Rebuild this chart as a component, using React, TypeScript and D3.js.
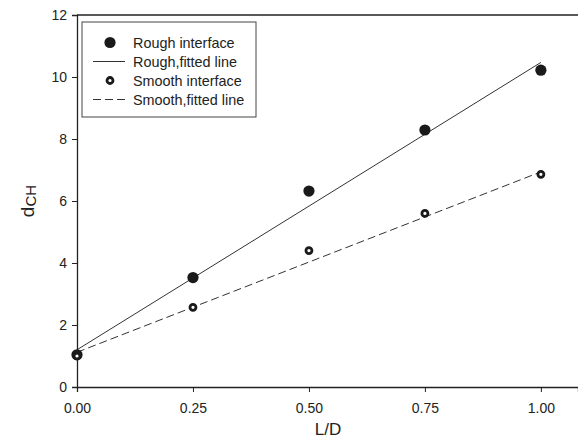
import React, { useRef, useEffect } from 'react';
import * as d3 from 'd3';

const xTicks = [0, 0.25, 0.5, 0.75, 1.0];
const yTicks = [0, 2, 4, 6, 8, 10, 12];

const ratio = [0, 0.25, 0.5, 0.75, 1.0];
const roughValues = [1.04, 3.53, 6.32, 8.29, 10.22];
const smoothValues = [1.0, 2.57, 4.4, 5.6, 6.86];

// fitted lines, end points
const roughFit = [1.2, 10.47];
const smoothFit = [1.12, 6.94];
const fitX = [0, 1.0];

const legendItems = ['Rough interface', 'Rough,fitted line', 'Smooth interface', 'Smooth,fitted line'];

const FONT = '"Liberation Sans", Arial, sans-serif';

const App = () => {
  const ref = useRef<SVGSVGElement>(null);

  useEffect(() => {
    const width = 578;
    const height = 438;
    const svg = d3.select(ref.current).attr('width', width).attr('height', height);
    svg.selectAll('*').remove();

    const x = d3.scaleLinear().domain([0, 1.08]).range([77, 578]);
    const y = d3.scaleLinear().domain([0, 12]).range([387, 15]);

    // top frame line
    svg.append('line')
      .attr('x1', x(0)).attr('x2', 578)
      .attr('y1', y(12)).attr('y2', y(12))
      .attr('stroke', '#222').attr('stroke-width', 1.3);

    const xAxis = svg.append('g')
      .attr('transform', `translate(0,${y(0)})`)
      .call(d3.axisBottom(x).tickValues(xTicks).tickFormat(d3.format('.2f')).tickSizeOuter(0).tickSize(5).tickPadding(11));

    const yAxis = svg.append('g')
      .attr('transform', `translate(${x(0)},0)`)
      .call(d3.axisLeft(y).tickValues(yTicks).tickFormat(d3.format('d')).tickSizeOuter(0).tickSize(5).tickPadding(5));

    [xAxis, yAxis].forEach(g => {
      g.select('.domain').attr('stroke', '#222').attr('stroke-width', 1.3);
      g.selectAll('.tick line').attr('stroke', '#222').attr('stroke-width', 1);
      g.selectAll('.tick text').attr('font-family', FONT).attr('font-size', 14).attr('fill', '#222');
    });

    // fitted lines
    const line = d3.line<[number, number]>().x(d => x(d[0])).y(d => y(d[1]));
    svg.append('path')
      .attr('d', line(fitX.map((v, i) => [v, roughFit[i]] as [number, number])))
      .attr('fill', 'none').attr('stroke', '#333').attr('stroke-width', 1);
    svg.append('path')
      .attr('d', line(fitX.map((v, i) => [v, smoothFit[i]] as [number, number])))
      .attr('fill', 'none').attr('stroke', '#333').attr('stroke-width', 1)
      .attr('stroke-dasharray', '8,4');

    // points
    svg.selectAll('circle.rough')
      .data(ratio)
      .enter().append('circle')
      .attr('class', 'rough')
      .attr('cx', d => x(d))
      .attr('cy', (d, i) => y(roughValues[i]))
      .attr('r', 5.6)
      .attr('fill', '#1a1a1a');

    svg.selectAll('circle.smooth')
      .data(ratio)
      .enter().append('circle')
      .attr('class', 'smooth')
      .attr('cx', d => x(d))
      .attr('cy', (d, i) => y(smoothValues[i]))
      .attr('r', 3)
      .attr('fill', '#fff')
      .attr('stroke', '#1a1a1a')
      .attr('stroke-width', 2.8);

    // axis titles
    svg.append('text')
      .attr('x', 328).attr('y', 435)
      .attr('text-anchor', 'middle')
      .attr('font-family', FONT).attr('font-size', 17).attr('fill', '#222')
      .text('L/D');

    const yLabel = svg.append('text')
      .attr('transform', 'translate(34,201) rotate(-90)')
      .attr('text-anchor', 'middle')
      .attr('font-family', FONT).attr('font-size', 19).attr('fill', '#222');
    yLabel.append('tspan').text('d');
    yLabel.append('tspan').attr('dy', 2).attr('font-size', 15).text('CH');

    // legend
    const legend = svg.append('g');
    legend.append('rect')
      .attr('x', 82).attr('y', 22).attr('width', 174).attr('height', 95)
      .attr('fill', '#fff').attr('stroke', '#444').attr('stroke-width', 1);

    const rows = legend.selectAll('g.row')
      .data(legendItems)
      .enter().append('g')
      .attr('class', 'row')
      .attr('transform', (d, i) => `translate(0,${42.5 + i * 19})`);

    rows.append('text')
      .attr('x', 133).attr('y', 0).attr('dy', '0.35em')
      .attr('font-family', FONT).attr('font-size', 14.4).attr('fill', '#222')
      .text(d => d);

    rows.each(function (d, i) {
      const g = d3.select(this);
      if (i === 0) {
        g.append('circle').attr('cx', 110).attr('cy', 0).attr('r', 5.6).attr('fill', '#1a1a1a');
      } else if (i === 2) {
        g.append('circle').attr('cx', 110).attr('cy', 0).attr('r', 3)
          .attr('fill', '#fff').attr('stroke', '#1a1a1a').attr('stroke-width', 2.8);
      } else {
        g.append('line').attr('x1', 93).attr('x2', 125).attr('y1', 0).attr('y2', 0)
          .attr('stroke', '#333').attr('stroke-width', 1)
          .attr('stroke-dasharray', i === 3 ? '8,4' : null);
      }
    });
  }, []);

  return <svg ref={ref} style={{ position: 'absolute', left: 0, top: 0, background: '#fff' }}></svg>;
};

export default App;
